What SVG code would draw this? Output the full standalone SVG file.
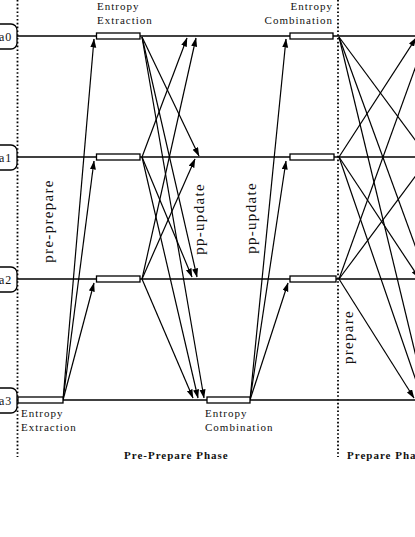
<svg xmlns="http://www.w3.org/2000/svg" width="415" height="537" viewBox="0 0 415 537">
<style>
.t{font-family:"Liberation Serif","Times New Roman",serif;font-size:11px;letter-spacing:1px;fill:#111}
.n{font-family:"Liberation Serif","Times New Roman",serif;font-size:12px;letter-spacing:1px;fill:#111}
.r{font-family:"Liberation Serif","Times New Roman",serif;font-size:15px;letter-spacing:1.3px;fill:#111}
.b{font-family:"Liberation Serif","Times New Roman",serif;font-size:11px;font-weight:bold;letter-spacing:1px;fill:#111}
.node{fill:#fff;stroke:#000;stroke-width:1.3}
.box{fill:#fff;stroke:#000;stroke-width:1.3}
.tl{stroke:#000;stroke-width:1.5;fill:none}
.ar{stroke:#000;stroke-width:1.2;fill:none;marker-end:url(#ah)}
.dot{stroke:#000;stroke-width:1.8;stroke-dasharray:1.6 2.2;fill:none}
</style>
<defs>
<marker id="ah" markerUnits="userSpaceOnUse" markerWidth="9" markerHeight="7" refX="8.5" refY="3" orient="auto">
<path d="M0,0 L9,3 L0,6 z" fill="#000"/>
</marker>
</defs>
<rect width="415" height="537" fill="#fff"/>
<g id="phase-dividers">
<line class="dot" x1="17.5" y1="0" x2="17.5" y2="457"/>
<line class="dot" x1="338" y1="0" x2="338" y2="457"/>
</g>
<g id="timelines">
<line class="tl" x1="17" y1="36" x2="415" y2="36"/>
<line class="tl" x1="17" y1="157" x2="415" y2="157"/>
<line class="tl" x1="17" y1="279" x2="415" y2="279"/>
<line class="tl" x1="17" y1="400" x2="415" y2="400"/>
</g>
<g id="connectors">
<path class="ar" d="M63,400 L94,39"/>
<path class="ar" d="M63,400 L94,161"/>
<path class="ar" d="M63,400 L94,283"/>
<path class="ar" d="M142,37 L199,156"/>
<path class="ar" d="M142,37 L197,277"/>
<path class="ar" d="M142,37 L204,398"/>
<path class="ar" d="M142,157 L187,38"/>
<path class="ar" d="M142,157 L192,277"/>
<path class="ar" d="M142,157 L198,398"/>
<path class="ar" d="M142,279 L196,38"/>
<path class="ar" d="M142,279 L195,159"/>
<path class="ar" d="M142,279 L193,398"/>
<path class="ar" d="M250,400 L286,39"/>
<path class="ar" d="M250,400 L286,161"/>
<path class="ar" d="M250,400 L288,283"/>
<path class="ar" d="M339,37 L427,156"/>
<path class="ar" d="M339,37 L427,278"/>
<path class="ar" d="M339,37 L426,398"/>
<path class="ar" d="M339,157 L416,38"/>
<path class="ar" d="M339,157 L419,278"/>
<path class="ar" d="M339,157 L422,398"/>
<path class="ar" d="M339,279 L426,38"/>
<path class="ar" d="M339,279 L429,158"/>
<path class="ar" d="M339,279 L414,398"/>
</g>
<g id="node-a0"><rect class="node" x="-30" y="24" width="47" height="25" rx="6"/><text class="n" x="-1" y="40.5">a0</text></g>
<g id="node-a1"><rect class="node" x="-30" y="145" width="47" height="25" rx="6"/><text class="n" x="-1" y="161.5">a1</text></g>
<g id="node-a2"><rect class="node" x="-30" y="267" width="47" height="25" rx="6"/><text class="n" x="-1" y="283.5">a2</text></g>
<g id="node-a3"><rect class="node" x="-30" y="388" width="47" height="25" rx="6"/><text class="n" x="-1" y="404.5">a3</text></g>
<g id="extraction-boxes">
<rect class="box" x="96.5" y="33" width="43.5" height="6"/>
<rect class="box" x="96.5" y="154" width="43.5" height="6"/>
<rect class="box" x="96.5" y="276" width="43.5" height="6"/>
<rect class="box" x="18" y="397" width="45" height="6"/>
</g>
<g id="combination-boxes">
<rect class="box" x="290" y="33" width="43" height="6"/>
<rect class="box" x="290" y="154" width="44" height="6"/>
<rect class="box" x="290" y="276" width="46" height="6"/>
<rect class="box" x="207" y="397" width="43" height="6"/>
</g>
<g id="labels">
<text class="t" x="97" y="10">Entropy</text>
<text class="t" x="97" y="24">Extraction</text>
<text class="t" x="333" y="10" text-anchor="end">Entropy</text>
<text class="t" x="333" y="24" text-anchor="end">Combination</text>
<text class="t" x="21" y="417">Entropy</text>
<text class="t" x="21" y="431">Extraction</text>
<text class="t" x="205" y="417">Entropy</text>
<text class="t" x="205" y="431">Combination</text>
<text class="b" x="124" y="459">Pre-Prepare Phase</text>
<text class="b" x="347" y="459">Prepare Phase</text>
<text class="r" transform="translate(53,221) rotate(-90)" text-anchor="middle">pre-prepare</text>
<text class="r" transform="translate(204,219) rotate(-90)" text-anchor="middle">pp-update</text>
<text class="r" transform="translate(256,218) rotate(-90)" text-anchor="middle">pp-update</text>
<text class="r" transform="translate(353,337) rotate(-90)" text-anchor="middle">prepare</text>
</g>
</svg>
